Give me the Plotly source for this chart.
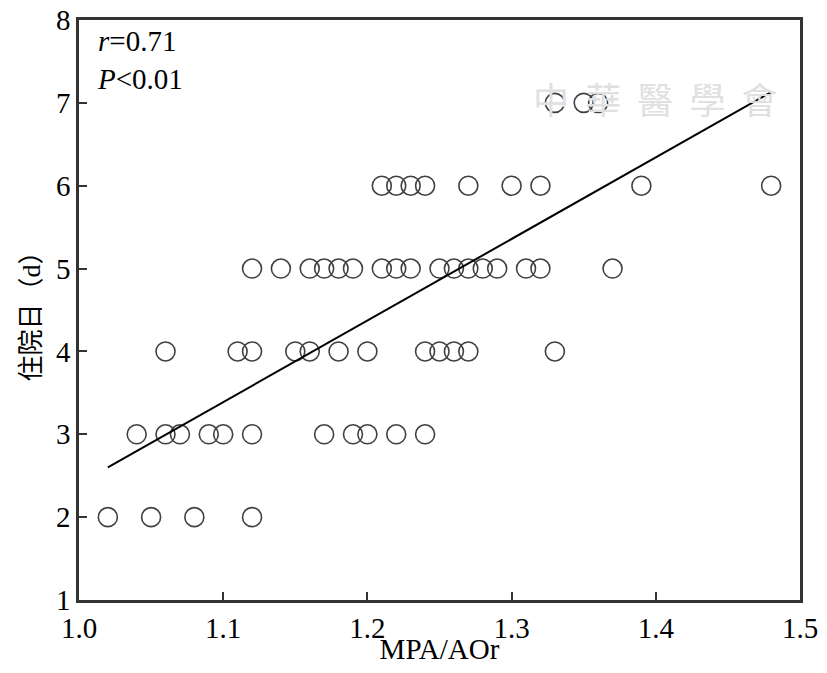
import plotly.graph_objects as go

# ==================== Data ====================
# MPA/AOr ratio for each patient, grouped by hospital stay (days)
x_stay2 = [1.02, 1.05, 1.08, 1.12]
x_stay3 = [1.04, 1.06, 1.07, 1.09, 1.10, 1.12, 1.17, 1.19, 1.20, 1.22, 1.24]
x_stay4 = [1.06, 1.11, 1.12, 1.15, 1.16, 1.18, 1.20, 1.24, 1.25, 1.26, 1.27, 1.33]
x_stay5 = [1.12, 1.14, 1.16, 1.17, 1.18, 1.19, 1.21, 1.22, 1.23, 1.25, 1.26,
           1.27, 1.28, 1.29, 1.31, 1.32, 1.37]
x_stay6 = [1.21, 1.22, 1.23, 1.24, 1.27, 1.30, 1.32, 1.39, 1.48]
x_stay7 = [1.33, 1.35, 1.36]

groups = [(2, x_stay2), (3, x_stay3), (4, x_stay4),
          (5, x_stay5), (6, x_stay6), (7, x_stay7)]

# regression line end points
fit_x = [1.02, 1.48]
fit_y = [2.60, 7.13]

x_ticks = [1.0, 1.1, 1.2, 1.3, 1.4, 1.5]
y_ticks = [1, 2, 3, 4, 5, 6, 7, 8]

xs, ys = [], []
for days, vals in groups:
    xs += vals
    ys += [days] * len(vals)

SERIF = "Liberation Serif, Noto Sans CJK SC"

# ==================== Plot ====================
fig = go.Figure()

fig.add_trace(go.Scatter(
    x=xs, y=ys,
    mode='markers',
    marker=dict(symbol='circle-open', size=19, color='#404040',
                line=dict(color='#404040', width=1.6)),
    showlegend=False
))

fig.add_trace(go.Scatter(
    x=fit_x, y=fit_y,
    mode='lines',
    line=dict(color='black', width=2),
    showlegend=False
))

# stats text
fig.add_annotation(
    xref='paper', yref='paper', x=0.022, y=0.995,
    xanchor='left', yanchor='top', align='left', showarrow=False,
    text='<i>r</i>=0.71<br><i>P</i>&lt;0.01',
    font=dict(family=SERIF, size=29, color='black')
)

# faint publisher watermark
fig.add_annotation(
    xref='paper', yref='paper', x=0.80, y=0.865,
    xanchor='center', yanchor='middle', showarrow=False,
    text='中  華  醫  學  會',
    font=dict(family='Noto Sans CJK TC', size=36, color='#e0e0e0')
)

# ==================== Layout Settings ====================
axis_common = dict(
    showline=True, linecolor='#333333', linewidth=2.5, mirror=True,
    ticks='inside', ticklen=8, tickwidth=2, tickcolor='#333333',
    showgrid=False, zeroline=False, automargin=False,
    ticklabeloverflow='allow',
    tickfont=dict(family=SERIF, size=29, color='black'),
)

# the page adds an 8px body margin, so the figure is sized to fit inside it
fig.update_layout(
    width=811, height=657,
    margin=dict(l=71, r=19, t=12, b=65),
    plot_bgcolor='white', paper_bgcolor='white',
    xaxis=dict(range=[1.0, 1.5], tickvals=x_ticks,
               ticktext=[f'{v:.1f}' for v in x_ticks],
               title=dict(text='MPA/AOr', standoff=6,
                          font=dict(family=SERIF, size=29, color='black')),
               **axis_common),
    yaxis=dict(range=[1, 8], tickvals=y_ticks,
               title=dict(text='住院日（d）', standoff=8,
                          font=dict(family=SERIF, size=26, color='black')),
               **axis_common),
)

fig.write_html("out.html")
